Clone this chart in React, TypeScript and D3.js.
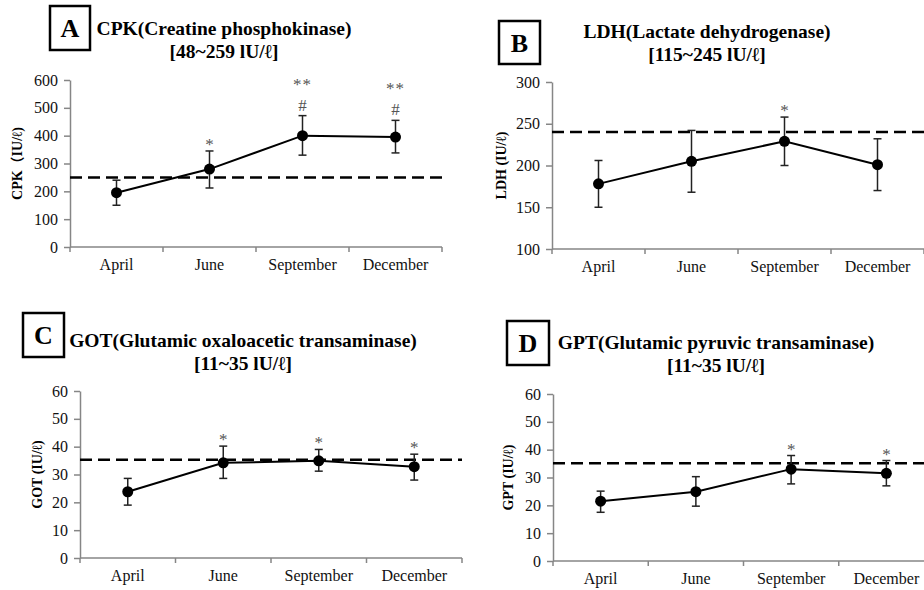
import { useEffect, useRef } from 'react'
import * as d3 from 'd3'

// months on every panel
const months = ['April', 'June', 'September', 'December']

// A: CPK
const cpkMean = [195, 280, 400, 395]
const cpkLow = [150, 212, 330, 338]
const cpkHigh = [240, 345, 472, 455]
const cpkRef = 250
const cpkMarks = [[], ['*'], ['#', '**'], ['#', '**']]
const cpkTicks = [0, 100, 200, 300, 400, 500, 600]

// B: LDH
const ldhMean = [178, 205, 229, 201]
const ldhLow = [150, 168, 200, 170]
const ldhHigh = [206, 242, 258, 232]
const ldhRef = 240
const ldhMarks = [[], [], ['*'], []]
const ldhTicks = [100, 150, 200, 250, 300]

// C: GOT
const gotMean = [23.8, 34.2, 34.9, 32.8]
const gotLow = [19, 28.6, 31.2, 28]
const gotHigh = [28.6, 40.2, 39, 37.3]
const gotRef = 35.3
const gotMarks = [[], ['*'], ['*'], ['*']]
const gotTicks = [0, 10, 20, 30, 40, 50, 60]

// D: GPT
const gptMean = [21.5, 24.9, 33, 31.5]
const gptLow = [17.5, 19.7, 27.7, 27]
const gptHigh = [25.1, 30.3, 37.9, 36.1]
const gptRef = 35.1
const gptMarks = [[], [], ['*'], ['*']]
const gptTicks = [0, 10, 20, 30, 40, 50, 60]

const panels = [
  {
    letter: 'A', title: 'CPK(Creatine phosphokinase)', range: '[48~259 lU/ℓ]', ylabel: 'CPK（IU/ℓ)',
    mean: cpkMean, low: cpkLow, high: cpkHigh, ref: cpkRef, marks: cpkMarks, ticks: cpkTicks,
    left: 70, right: 442, top: 80, bottom: 247,
    box: [50, 6, 40, 44], titleX: 224, titleY: 35, labelX: 22,
  },
  {
    letter: 'B', title: 'LDH(Lactate dehydrogenase)', range: '[115~245 lU/ℓ]', ylabel: 'LDH (IU/ℓ)',
    mean: ldhMean, low: ldhLow, high: ldhHigh, ref: ldhRef, marks: ldhMarks, ticks: ldhTicks,
    left: 552, right: 924, top: 82, bottom: 249,
    box: [499, 21, 41, 43], titleX: 707, titleY: 38, labelX: 506,
  },
  {
    letter: 'C', title: 'GOT(Glutamic oxaloacetic transaminase)', range: '[11~35 lU/ℓ]', ylabel: 'GOT (IU/ℓ)',
    mean: gotMean, low: gotLow, high: gotHigh, ref: gotRef, marks: gotMarks, ticks: gotTicks,
    left: 80, right: 462, top: 391, bottom: 558,
    box: [23, 313, 41, 44], titleX: 243, titleY: 347, labelX: 42,
  },
  {
    letter: 'D', title: 'GPT(Glutamic pyruvic transaminase)', range: '[11~35 lU/ℓ]', ylabel: 'GPT (IU/ℓ)',
    mean: gptMean, low: gptLow, high: gptHigh, ref: gptRef, marks: gptMarks, ticks: gptTicks,
    left: 553, right: 934, top: 394, bottom: 561,
    box: [507, 321, 42, 44], titleX: 716, titleY: 349, labelX: 513,
  },
]

const FONT = "'Liberation Serif', 'Times New Roman', 'Noto Sans CJK KR', serif"
const AXIS = '#868686'

export default function App() {
  const svgRef = useRef<SVGSVGElement>(null)

  useEffect(() => {
    if (!svgRef.current) return
    const svg = d3.select(svgRef.current)
    svg.selectAll('*').remove()
    svg.append('rect').attr('width', 924).attr('height', 590).attr('fill', '#fff')

    panels.forEach((p) => {
      const g = svg.append('g')
      const x = d3.scaleBand().domain(months).range([p.left, p.right])
      const y = d3.scaleLinear()
        .domain([p.ticks[0], p.ticks[p.ticks.length - 1]])
        .range([p.bottom, p.top])
      const cx = (i: number) => x(months[i])! + x.bandwidth() / 2

      // letter box
      const [bx, by, bw, bh] = p.box
      g.append('rect')
        .attr('x', bx).attr('y', by).attr('width', bw).attr('height', bh)
        .attr('fill', 'none').attr('stroke', '#000').attr('stroke-width', 2.5)
      g.append('text')
        .attr('x', bx + bw / 2).attr('y', by + bh / 2 + 9)
        .attr('text-anchor', 'middle')
        .style('font-family', FONT).style('font-size', '26px').style('font-weight', 700)
        .text(p.letter)

      // title
      ;[p.title, p.range].forEach((t, k) => {
        g.append('text')
          .attr('x', p.titleX).attr('y', p.titleY + k * 23)
          .attr('text-anchor', 'middle')
          .style('font-family', FONT).style('font-size', '19.5px').style('font-weight', 700)
          .text(t)
      })

      // y axis
      const ya = g.append('g')
        .attr('transform', `translate(${p.left},0)`)
        .call(d3.axisLeft(y).tickValues(p.ticks).tickSize(6).tickSizeOuter(0).tickPadding(6))
      ya.select('.domain').attr('stroke', AXIS).attr('stroke-width', 1.5)
      ya.selectAll('.tick line').attr('stroke', AXIS).attr('stroke-width', 1.5)
      ya.selectAll('.tick text')
        .style('font-family', FONT).style('font-size', '16px').attr('fill', '#111')

      // x axis, ticks at category boundaries
      g.append('line')
        .attr('x1', p.left).attr('x2', p.right)
        .attr('y1', p.bottom).attr('y2', p.bottom)
        .attr('stroke', AXIS).attr('stroke-width', 1.5)
      const bounds = months.map((m) => x(m)!).concat([p.right])
      g.selectAll('line.xt')
        .data(bounds)
        .join('line')
        .attr('class', 'xt')
        .attr('x1', (d) => d).attr('x2', (d) => d)
        .attr('y1', p.bottom).attr('y2', p.bottom + 5)
        .attr('stroke', AXIS).attr('stroke-width', 1.5)
      g.selectAll('text.xl')
        .data(months)
        .join('text')
        .attr('class', 'xl')
        .attr('x', (_, i) => cx(i)).attr('y', p.bottom + 23)
        .attr('text-anchor', 'middle').attr('fill', '#111')
        .style('font-family', FONT).style('font-size', '16px')
        .text((d) => d)

      // y label
      g.append('text')
        .attr('transform', `translate(${p.labelX},${(p.top + p.bottom) / 2}) rotate(-90)`)
        .attr('text-anchor', 'middle')
        .style('font-family', FONT).style('font-size', '14px').style('font-weight', 700)
        .text(p.ylabel)

      // reference line
      g.append('line')
        .attr('x1', p.left).attr('x2', Math.min(p.right, 924))
        .attr('y1', y(p.ref)).attr('y2', y(p.ref))
        .attr('stroke', '#000').attr('stroke-width', 2.5)
        .attr('stroke-dasharray', '12,6')

      // error bars
      p.mean.forEach((_, i) => {
        const xx = cx(i)
        g.append('line')
          .attr('x1', xx).attr('x2', xx)
          .attr('y1', y(p.low[i])).attr('y2', y(p.high[i]))
          .attr('stroke', '#222').attr('stroke-width', 1.5)
        ;[p.low[i], p.high[i]].forEach((v) => {
          g.append('line')
            .attr('x1', xx - 4).attr('x2', xx + 4)
            .attr('y1', y(v)).attr('y2', y(v))
            .attr('stroke', '#222').attr('stroke-width', 1.5)
        })
      })

      // mean line and points
      const line = d3.line<number>().x((_, i) => cx(i)).y((d) => y(d))
      g.append('path')
        .attr('d', line(p.mean))
        .attr('fill', 'none').attr('stroke', '#000').attr('stroke-width', 2)
      g.selectAll('circle')
        .data(p.mean)
        .join('circle')
        .attr('cx', (_, i) => cx(i)).attr('cy', (d) => y(d))
        .attr('r', 5.5).attr('fill', '#000')

      // significance marks
      p.marks.forEach((ms, i) => {
        const top = y(p.high[i])
        ms.forEach((m) => {
          const off = m === '*' ? 1 : m === '#' ? 5 : 26
          g.append('text')
            .attr('x', cx(i)).attr('y', top - off)
            .attr('text-anchor', 'middle').attr('fill', '#555')
            .style('font-family', FONT).style('font-size', '17px')
            .style('letter-spacing', m === '**' ? '1px' : '0')
            .text(m)
        })
      })
    })
  }, [])

  return (
    <svg
      ref={svgRef}
      width={924}
      height={590}
      style={{ position: 'absolute', left: 0, top: 0, display: 'block' }}
    />
  )
}
